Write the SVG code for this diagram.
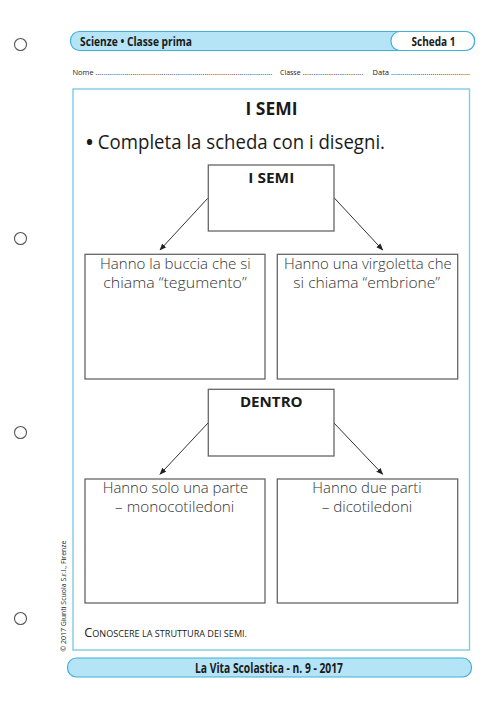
<svg xmlns="http://www.w3.org/2000/svg" width="500" height="708" viewBox="0 0 500 708">
<style>
.t{font-family:"Open Sans","Noto Sans","Liberation Sans",sans-serif;fill:#1a1a1a}
.b{font-weight:bold}
.lt{font-weight:300;fill:#333}
.box{fill:#fff;stroke:#666;stroke-width:1.3}
.hole{fill:none;stroke:#555;stroke-width:1.1}
.con{stroke:#333;stroke-width:1;fill:none;marker-end:url(#ah)}
</style>
<defs>
<marker id="ah" viewBox="0 0 10 10" refX="9" refY="5" markerWidth="7" markerHeight="7" orient="auto" markerUnits="userSpaceOnUse">
<path d="M0,1 L10,5 L0,9 Z" fill="#222"/>
</marker>
</defs>
<rect width="500" height="708" fill="#fff"/>
<g id="holes">
<circle class="hole" cx="20.5" cy="44.5" r="6"/>
<circle class="hole" cx="20.5" cy="238.5" r="6"/>
<circle class="hole" cx="20.5" cy="432.5" r="6"/>
<circle class="hole" cx="20.5" cy="618.5" r="6"/>
</g>
<g id="header">
<rect x="70.5" y="31.5" width="404" height="19" rx="9" fill="#b5e4f7" stroke="#3fb0d8" stroke-width="1.2"/>
<rect x="391" y="31.5" width="83.5" height="19" rx="9" fill="#fff" stroke="#3fb0d8" stroke-width="1.2"/>
<text class="t b" x="80" y="45.5" font-size="13" textLength="112" lengthAdjust="spacingAndGlyphs">Scienze • Classe prima</text>
<text class="t b" x="411.5" y="45.5" font-size="13" textLength="44" lengthAdjust="spacingAndGlyphs">Scheda 1</text>
</g>
<g id="namefields">
<text class="t" x="72.5" y="74.5" font-size="7" textLength="200" lengthAdjust="spacingAndGlyphs">Nome ...........................................................................................</text>
<text class="t" x="280" y="74.5" font-size="7" textLength="83" lengthAdjust="spacingAndGlyphs">Classe .................................</text>
<text class="t" x="372.5" y="74.5" font-size="7" textLength="97.5" lengthAdjust="spacingAndGlyphs">Data ........................................</text>
</g>
<rect id="frame" x="73" y="89" width="396.5" height="561" fill="none" stroke="#7fcbe4" stroke-width="1.4"/>
<g id="title">
<text class="t b" x="271.5" y="114.5" font-size="17.5" text-anchor="middle" textLength="52" lengthAdjust="spacingAndGlyphs">I SEMI</text>
<text class="t" x="86" y="148.5" font-size="20" textLength="299" lengthAdjust="spacingAndGlyphs"><tspan font-weight="bold">•</tspan> Completa la scheda con i disegni.</text>
</g>
<g id="connectors">
<line class="con" x1="207.7" y1="198.3" x2="160" y2="250"/>
<line class="con" x1="334" y1="197.7" x2="382.7" y2="250"/>
<line class="con" x1="208" y1="423" x2="160" y2="474.3"/>
<line class="con" x1="334" y1="423" x2="382.7" y2="474.3"/>
</g>
<g id="n-semi">
<rect class="box" x="208.3" y="165" width="125.7" height="66"/>
<text class="t b" x="271.3" y="182.7" font-size="15" text-anchor="middle" textLength="46" lengthAdjust="spacingAndGlyphs">I SEMI</text>
</g>
<g id="n-buccia">
<rect class="box" x="85" y="254.3" width="180" height="124.7"/>
<text class="t lt" x="175.3" y="269.3" font-size="14.5" text-anchor="middle" textLength="150.7" lengthAdjust="spacingAndGlyphs">Hanno la buccia che si</text>
<text class="t lt" x="175" y="288.3" font-size="14.5" text-anchor="middle" textLength="143.4" lengthAdjust="spacingAndGlyphs">chiama “tegumento”</text>
</g>
<g id="n-virgoletta">
<rect class="box" x="277.3" y="254.3" width="180.4" height="124.7"/>
<text class="t lt" x="367.8" y="269.3" font-size="14.5" text-anchor="middle" textLength="167.7" lengthAdjust="spacingAndGlyphs">Hanno una virgoletta che</text>
<text class="t lt" x="366.7" y="288.3" font-size="14.5" text-anchor="middle" textLength="146.7" lengthAdjust="spacingAndGlyphs">si chiama “embrione”</text>
</g>
<g id="n-dentro">
<rect class="box" x="208.3" y="389.3" width="125.7" height="66.7"/>
<text class="t b" x="271.3" y="406.7" font-size="15" text-anchor="middle" textLength="62.7" lengthAdjust="spacingAndGlyphs">DENTRO</text>
</g>
<g id="n-mono">
<rect class="box" x="85" y="479" width="180" height="124"/>
<text class="t lt" x="175.5" y="493.3" font-size="14.5" text-anchor="middle" textLength="145.6" lengthAdjust="spacingAndGlyphs">Hanno solo una parte</text>
<text class="t lt" x="174.7" y="511.7" font-size="14.5" text-anchor="middle" textLength="119.3" lengthAdjust="spacingAndGlyphs">– monocotiledoni</text>
</g>
<g id="n-di">
<rect class="box" x="277.3" y="479" width="180.4" height="124"/>
<text class="t lt" x="367" y="493.3" font-size="14.5" text-anchor="middle" textLength="109.4" lengthAdjust="spacingAndGlyphs">Hanno due parti</text>
<text class="t lt" x="367" y="511.7" font-size="14.5" text-anchor="middle" textLength="90.6" lengthAdjust="spacingAndGlyphs">– dicotiledoni</text>
</g>
<g id="objective">
<text class="t" x="84.3" y="637.3" font-size="12" textLength="162.7" lengthAdjust="spacingAndGlyphs">C<tspan font-size="8.6">ONOSCERE LA STRUTTURA DEI SEMI.</tspan></text>
</g>
<g id="copyright">
<text class="t" transform="translate(65.5,651.5) rotate(-90)" font-size="7" textLength="111" lengthAdjust="spacingAndGlyphs">© 2017 Giunti Scuola S.r.l., Firenze</text>
</g>
<g id="footer">
<rect x="67.5" y="658" width="404" height="19" rx="9" fill="#b5e4f7" stroke="#3fb0d8" stroke-width="1.2"/>
<text class="t b" x="269" y="672.7" font-size="13.5" text-anchor="middle" textLength="148" lengthAdjust="spacingAndGlyphs">La Vita Scolastica - n. 9 - 2017</text>
</g>
</svg>
